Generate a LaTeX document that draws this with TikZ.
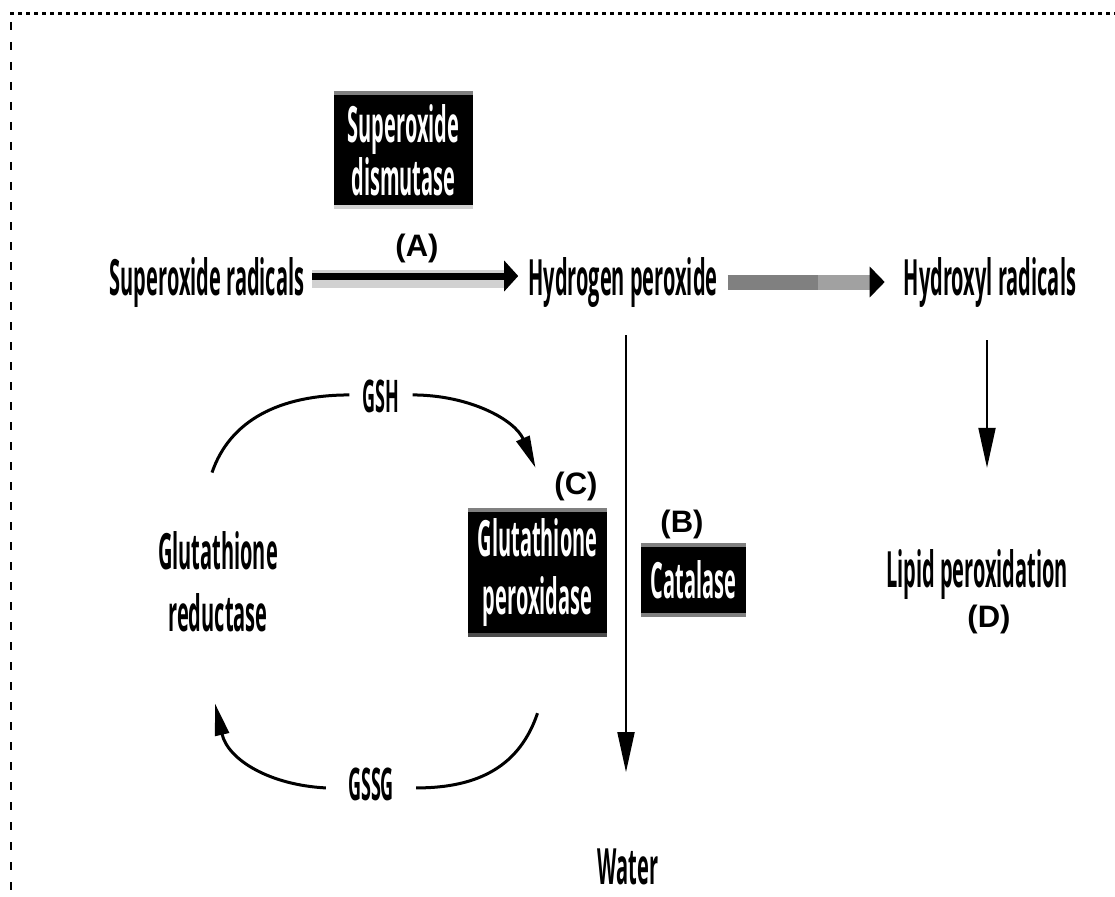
\documentclass[tikz,border=0pt]{standalone}
\usepackage{fontspec}
\newfontfamily\cond{Open Sans}[FakeStretch=0.40]
\newfontfamily\labf{Liberation Sans}
\usetikzlibrary{arrows.meta}
\definecolor{band}{gray}{0.82}
\definecolor{midgray}{gray}{0.5}
\definecolor{litgray}{gray}{0.63}
\definecolor{darkband}{gray}{0.3}
\begin{document}
\begin{tikzpicture}[x=1pt,y=-1pt,
  txt/.style={font=\cond\bfseries\fontsize{50}{58}\selectfont, inner sep=0pt},
  sml/.style={font=\cond\bfseries\fontsize{45}{50}\selectfont, inner sep=0pt},
  enz/.style={txt, fill=black, text=white, align=center},
  lab/.style={font=\labf\bfseries\fontsize{31}{31}\selectfont, inner sep=0pt},
  cyc/.style={line width=3pt, black},
  cyctip/.style={-{Triangle[length=32pt,width=14pt]}},
  vtip/.style={-{Triangle[length=40pt,width=17pt]}},
]
\useasboundingbox (0,0) rectangle (1115,896);
% frame
\coordinate (f0) at (10,13.5);
\coordinate (f1) at (1115,13.5);
\coordinate (f2) at (11,22);
\coordinate (f3) at (11,896);
\draw[line width=3.3pt, dash pattern=on 3.5pt off 4.5pt] (f0) -- (f1);
\draw[line width=2.5pt, dash pattern=on 8pt off 12pt] (f2) -- (f3);

% nodes
\node[txt, anchor=base] (sr) at (207,295) {Superoxide radicals};
\node[txt, anchor=base] (hp) at (623,295) {Hydrogen peroxide};
\node[txt, anchor=base] (hx) at (990,295) {Hydroxyl radicals};
\node[enz, font=\cond\bfseries\fontsize{50}{53}\selectfont, minimum width=139pt, minimum height=118pt] (sod) at (403.5,150) {Superoxide\\dismutase};
\node[enz, minimum width=139pt, minimum height=129pt] (gpx) at (537.5,572.5) {Glutathione\\peroxidase};
\node[enz, minimum width=105pt, minimum height=74pt] (cat) at (693.5,580) {Catalase};
\node[txt, align=center, font=\cond\bfseries\fontsize{50}{62}\selectfont] (gr) at (218,582) {Glutathione\\reductase};
\node[sml, anchor=base] (gsh) at (381,412) {GSH};
\node[sml, anchor=base] (gssg) at (371,800) {GSSG};
\node[txt, anchor=base] (lp) at (977,587) {Lipid peroxidation};
\node[txt, anchor=base] (wa) at (628,884) {Water};
\node[lab] (la) at (417,248) {(A)};
\node[lab] (lb) at (682,524) {(B)};
\node[lab] (lc) at (576,486) {(C)};
\node[lab] (ld) at (989,619) {(D)};

% box edge bands
\draw[midgray, line width=4pt] ([yshift=-2pt]sod.north west) -- ([yshift=-2pt]sod.north east);
\draw[band, line width=4pt] ([yshift=2pt]sod.south west) -- ([yshift=2pt]sod.south east);
\draw[midgray, line width=4pt] ([yshift=-2pt]gpx.north west) -- ([yshift=-2pt]gpx.north east);
\draw[darkband, line width=4pt] ([yshift=2pt]gpx.south west) -- ([yshift=2pt]gpx.south east);
\draw[midgray, line width=4pt] ([yshift=-2pt]cat.north west) -- ([yshift=-2pt]cat.north east);
\draw[midgray, line width=4pt] ([yshift=2pt]cat.south west) -- ([yshift=2pt]cat.south east);

% arrow 1
\draw[band, line width=18pt] ([xshift=8pt,yshift=3pt]sr.east) -- ([xshift=-20pt,yshift=3pt]hp.west);
\draw[line width=7pt, -{Triangle[length=14pt,width=30pt]}] ([xshift=8pt,yshift=6pt]sr.east) -- ([xshift=-10pt,yshift=6pt]hp.west);

% arrow 2
\draw[litgray, line width=15pt, -{Triangle[length=15pt,width=30pt,color=black]}] ([xshift=10pt]hp.east) -- ([xshift=-19pt]hx.west);
\draw[midgray, line width=15pt] ([xshift=10pt]hp.east) -- ([xshift=100pt]hp.east);

% vertical arrows
\draw[line width=2pt, vtip, shorten >=76pt] ([xshift=3pt,yshift=-28pt]hp.south) -- ([xshift=3pt]hp.south |- wa.north);
\draw[line width=2pt, vtip, shorten >=81pt] ([xshift=-3pt,yshift=-33pt]hx.south) -- ([xshift=-3pt]hx.south |- lp.north);

% glutathione cycle
\draw[cyc] ([xshift=-6pt,yshift=59pt]gr.north) .. controls (230,420) and (280,395) .. ([xshift=-13pt,yshift=1pt]gsh.west);
\draw[cyc, cyctip] ([xshift=13pt,yshift=1pt]gsh.east) .. controls (470,395) and (515,420) .. ([xshift=-2pt,yshift=40pt]gpx.north);
\draw[cyc] ([yshift=-76pt]gpx.south) .. controls (520,765) and (480,788) .. ([xshift=22pt,yshift=-4pt]gssg.east);
\draw[cyc, cyctip] ([xshift=-22pt,yshift=-4pt]gssg.west) .. controls (270,785) and (228,760) .. ([xshift=-3pt,yshift=-71pt]gr.south);
\end{tikzpicture}
\end{document}
